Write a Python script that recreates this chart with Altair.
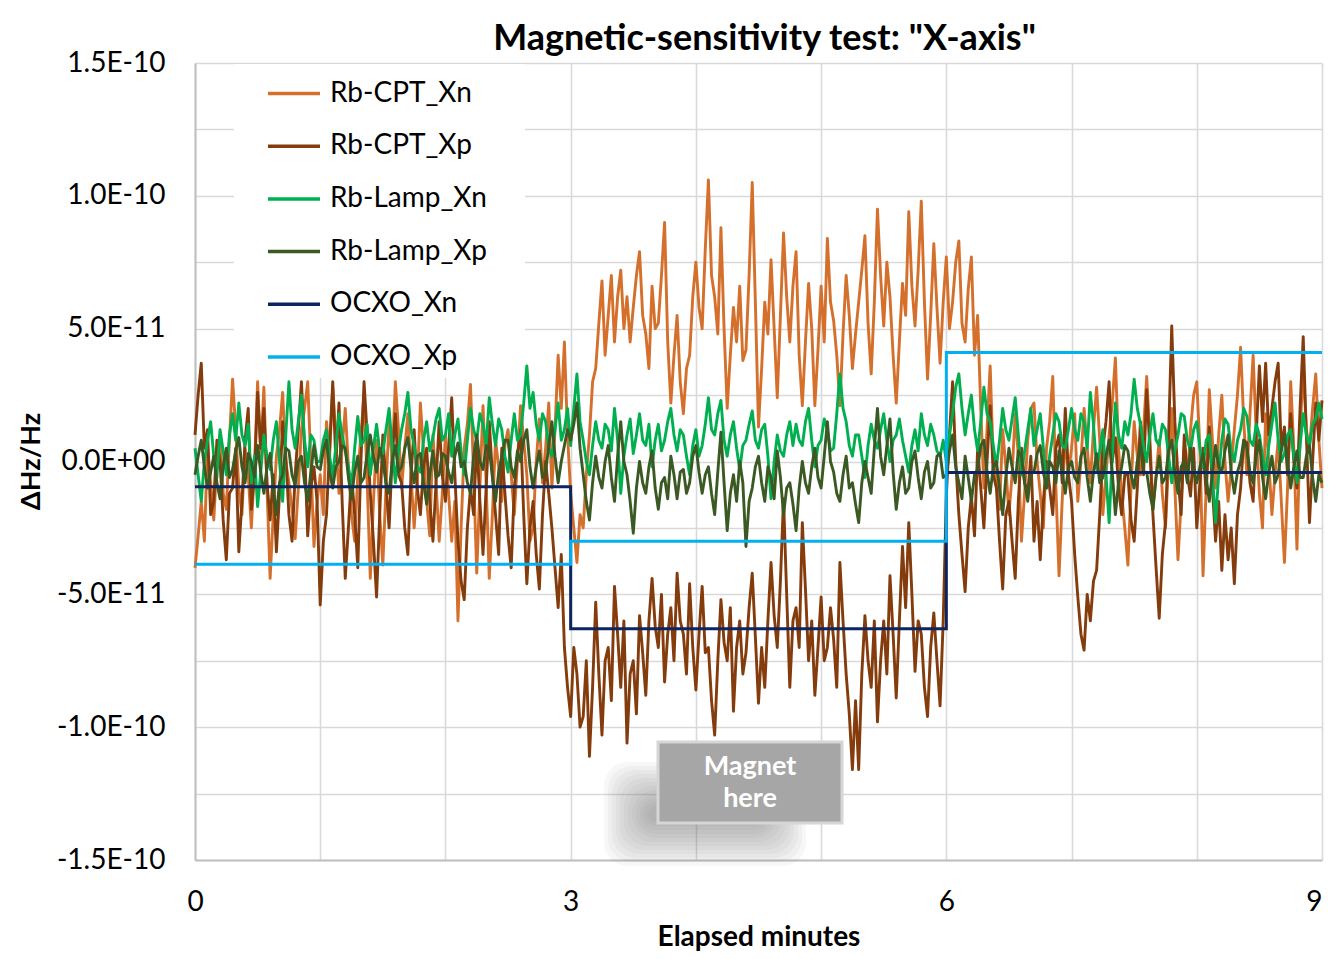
import altair as alt
import pandas as pd

# ---------------- data (values in units of 1E-12) ----------------
series_names = ["Rb-CPT_Xn", "Rb-CPT_Xp", "Rb-Lamp_Xn", "Rb-Lamp_Xp", "OCXO_Xn", "OCXO_Xp"]
series_colors = ["#D4702C", "#843C0C", "#00B050", "#3B5A23", "#0C2460", "#00B0F0"]

# sample times: every 0.025 min (1.5 s), 0 .. 9 min
time_min = [round(i * 0.025, 3) for i in range(361)]

rb_cpt_xn = [
    -40, -28, -15, -30, 5, -8, -22, 0, 10, -12, -18, 8, 31, 12, -10, -20, 5, -5, -25, -2,
    30, 2, 28, -10, -44, -20, 2, 12, 26, 0, -8, -18, -29, -10, 12, 20, 30, 0, -32, -15,
    -5, -20, 15, 2, 28, 8, -12, 5, 20, -2, -20, -30, -5, 10, 25, -8, -44, -15, 8, -20,
    -39, -10, 15, 0, 30, 12, -10, 5, 18, -5, -25, -8, 22, 4, -15, -28, 10, -8, -30, -12,
    10, -12, -30, -15, -60, -25, 5, 14, 29, -5, -42, -10, 21, -8, -44, -20, 8, -2, -15, 6,
    12, -5, -20, 0, 21, 8, -5, -30, -25, 0, 16, -8, 5, 22, -10, 12, 40, 20, 45, 10,
    -12, -25, -38, -20, -25, -5, 10, 30, 35, 52, 68, 40, 55, 70, 45, 62, 72, 50, 62, 45,
    58, 70, 79, 55, 48, 35, 66, 50, 52, 70, 90, 45, 22, 40, 55, 30, 18, 35, 40, 62,
    75, 58, 50, 80, 106, 70, 62, 48, 88, 50, 20, 40, 58, 45, 66, 38, 42, 70, 105, 60,
    13, 35, 60, 48, 76, 50, 24, 55, 86, 62, 45, 66, 79, 40, 21, 45, 67, 50, 21, 42,
    66, 45, 84, 60, 53, 40, 21, 48, 70, 55, 35, 48, 60, 72, 85, 52, 33, 60, 95, 70,
    51, 75, 62, 40, 22, 45, 67, 55, 94, 66, 51, 72, 98, 60, 31, 55, 82, 58, 37, 60,
    77, 50, 60, 75, 83, 52, 45, 65, 77, 40, 55, 20, -10, 12, 36, 0, -5, -18, 12, -2,
    -20, -5, 18, 2, -30, -12, 8, 20, 22, 0, -12, -25, 5, 15, 32, -10, -43, -15, 10, -5,
    5, 18, -15, 0, 20, 5, -8, 12, 28, 8, -20, -5, 10, 22, 39, 5, -12, -25, -39, -10,
    15, 2, -5, 12, 32, 10, -18, -5, 8, -12, -25, 0, 20, -10, -37, -15, 5, -8, 12, 25,
    30, 5, -43, -10, 27, 8, -10, 10, 25, 0, -15, -2, 12, 25, 43, 15, -5, 18, 40, 10,
    -12, -25, 18, 0, -20, -5, 8, -15, -38, -10, 30, 5, -33, 10, 36, 12, 5, 20, 33, 8,
    -10,
]
rb_cpt_xp = [
    10, 25, 37, 5, 12, -20, -15, 8, 0, -22, -37, -12, -10, 5, -34, -15, 8, 20, -18, -5,
    26, 5, 20, -8, -22, -5, -34, -12, 15, 2, -20, -30, -5, 12, 30, 5, -28, -10, -2, -15,
    -54, -30, -20, 5, 30, 0, 22, -15, -44, -25, -5, -20, -40, 0, 30, 10, -12, -30, -51, -20,
    10, -8, -25, 2, 18, -5, -8, -25, -35, -5, 12, -10, -20, -2, 5, -15, -30, -8, 15, -5,
    -15, 5, 24, -5, -30, -45, -52, -25, -10, -20, 8, -15, -35, -10, 15, -5, -20, -35, 5, -12,
    -28, -40, -10, 2, 12, -20, -46, -25, -15, -35, -48, -20, 0, -12, -25, -40, -55, -35, -70, -85,
    -96, -70, -80, -100, -96, -75, -111, -85, -53, -80, -103, -75, -70, -90, -47, -65, -85, -60, -106, -80,
    -75, -95, -58, -72, -88, -60, -44, -62, -70, -50, -83, -65, -55, -75, -42, -60, -65, -80, -46, -70,
    -86, -65, -47, -72, -70, -90, -103, -75, -52, -68, -75, -55, -94, -70, -60, -80, -72, -55, -42, -66,
    -91, -70, -85, -60, -38, -58, -70, -45, -14, -50, -85, -60, -55, -70, -23, -48, -75, -60, -88, -70,
    -51, -75, -70, -55, -67, -85, -38, -60, -80, -95, -116, -90, -116, -80, -58, -75, -85, -60, -98, -75,
    -60, -80, -43, -65, -89, -60, -32, -55, -23, -50, -79, -60, -65, -85, -96, -70, -57, -75, -92, -60,
    -13, 10, 30, 0, -20, -35, -49, -25, -13, -28, 5, -10, -25, 0, 21, -5, -10, -30, -48, -20,
    -15, -30, -44, -15, 5, -8, -12, 2, -30, -15, -37, -15, 0, -10, -20, 5, 10, -8, 20, -5,
    -15, -35, -51, -65, -71, -50, -60, -45, -41, -20, 5, 15, 30, 0, 9, -10, -20, -5, -5, -22,
    -30, -10, 15, -5, 27, 5, -20, -40, -59, -35, -23, 10, 51, 15, -6, -20, 10, -5, -13, 5,
    -25, -8, 5, -12, 13, -10, -30, -15, -41, -20, -37, -25, -46, -20, -10, 8, 7, -8, -15, 10,
    36, 15, 37, 10, 20, 30, 37, 5, 13, -5, 18, 0, -10, 20, 47, 10, -23, 0, 22, 8,
    23,
]
rb_lamp_xn = [
    5, -5, -15, 0, 8, 15, 2, -6, 12, 4, -5, 10, 18, 8, 22, 10, 6, 14, -8, 2,
    -17, -4, 10, 2, -3, 8, 15, 0, -15, 10, 30, 12, 5, 15, 25, 8, -2, 10, 8, 0,
    0, 8, 12, 2, -6, 6, 18, 10, 4, -2, -10, 5, 17, 6, 8, 14, -5, 5, 14, 4,
    3, 12, 20, 5, -8, 4, 12, 18, 26, 12, 6, -2, -4, 8, 15, 4, 9, 16, 20, 8,
    10, 18, 2, 10, 16, 4, -5, 8, 20, 12, 8, 18, 14, 6, 24, 14, 6, 16, 12, 2,
    -4, 8, 18, 8, 10, 22, 36, 20, 26, 14, 8, 18, 15, 5, 2, 12, 22, 8, 12, 20,
    6, 20, 33, 15, 8, 0, -5, 6, 15, 8, 5, 14, 12, 4, 20, 8, -12, 2, 10, 16,
    3, 10, 18, 8, 6, 14, -2, 8, 14, 4, 8, 15, 20, 10, 4, 12, 10, 2, -5, 6,
    12, 2, 6, 14, 24, 12, 10, 18, 23, 8, 2, 10, 15, 5, -3, 6, 8, 14, 19, 8,
    5, 12, 14, 2, -14, 0, 10, 4, 2, 10, 15, 6, 14, 8, 6, 15, 20, 8, -2, 6,
    8, 16, 12, 4, 5, 18, 33, 20, 15, 6, 2, 10, 10, 2, -6, 6, 14, 8, 5, 12,
    18, 8, 0, 8, 10, 16, 8, 2, -4, 6, 12, 4, 18, 10, 6, 14, 10, 4, 2, 8,
    0, 10, 18, 28, 33, 20, 10, 18, 25, 12, 4, 15, 28, 18, 15, 6, -2, 8, 20, 12,
    8, 16, 24, 10, -5, 4, 12, 20, 6, 12, 18, 5, -10, 2, 10, 18, 15, 6, 5, 12,
    20, 12, 8, 18, 15, 5, 26, 14, -3, 4, 12, -5, -23, 2, 22, 10, 5, 15, 10, 18,
    31, 20, 14, 6, 0, 10, 18, 8, 6, 14, 12, 2, -8, 4, 10, 18, 17, 8, 4, 12,
    15, 5, -2, 8, 10, -5, -23, -5, 8, 16, 14, 4, 0, 8, 12, 20, 17, 8, 6, 14,
    10, 2, -5, 6, 14, 22, 8, 0, 3, 10, 12, 2, -8, 6, 18, 10, 6, 14, 16, 22,
    16,
]
rb_lamp_xp = [
    -5, 2, 8, -2, -10, -4, 2, -8, -14, -2, 5, -6, -3, 4, 9, -2, -8, 3, 0, -6,
    6, -4, -12, -2, 3, -10, -20, -8, -5, 5, 4, -5, -9, 0, 2, -8, -15, -4, 6, -2,
    -3, 4, 8, -4, -10, -2, 0, 6, 5, -6, -14, -4, 2, -8, -6, 3, 10, 2, -4, 5,
    0, -8, -12, 0, 6, -4, -2, 5, 9, -2, -8, 2, 3, -8, -16, -5, 4, -6, -5, 3,
    2, -4, -8, 2, 7, -2, 0, -8, -12, 2, 10, 0, -3, 6, 5, -6, -15, -4, 2, 8,
    8, -2, -6, 4, 0, 8, 12, -2, -10, -2, 4, -6, -4, 6, 15, 2, -8, 0, 6, 12,
    8, 14, 22, 5, -5, -15, -22, -8, 2, -6, -10, 0, 6, -6, -15, 2, 15, 0, -5, -15,
    -27, -10, 0, -8, -12, -2, 4, -10, -18, -8, -6, -14, 2, -5, -14, -4, -3, -12, -8, 2,
    6, -4, -12, -5, -2, -12, -20, -4, 11, -8, -26, -12, -5, -15, 0, -8, -32, -15, -10, -2,
    2, -8, -15, -2, -6, -14, 4, -6, -20, -10, -8, -16, -26, -10, 0, -8, -12, -2, 5, -6,
    -10, 2, 15, 0, -4, -12, -15, -5, 2, -10, -8, -16, -23, -8, 0, -6, -12, 5, 20, 2,
    -5, 6, 16, -4, -18, -8, -2, -12, -10, 0, 4, -6, -14, -4, 0, -10, -8, 2, 3, -6,
    -5, 4, 10, -2, -8, -14, 2, -6, -15, -5, -3, 6, 8, -4, -12, -2, 0, -10, -20, -6,
    5, -2, -8, 4, 2, -8, -15, -4, -4, 3, 6, -4, -10, 0, -2, -8, 4, -4, -12, -2,
    0, -6, -8, 2, 5, -6, -15, -4, 3, -8, -6, 2, 8, -4, -20, -8, -2, 6, 4, -5,
    -10, 0, 6, -4, -4, -12, -18, -6, 2, -8, -6, 4, 8, -4, -12, -2, 0, -8, 5, -3,
    -8, -2, 3, -6, -15, -4, 6, -2, -4, 4, 10, -4, -12, -4, 0, 8, 5, -4, -8, 2,
    8, -6, -14, -4, 2, -8, -5, 4, 10, 0, -10, -2, 4, -6, -6, 2, 6, -6, -15, -5,
    -8,
]

# OCXO: constant level per 3-minute segment
ocxo_time = [0, 3, 3, 6, 6, 9]
ocxo_xn = [-9.5, -9.5, -63, -63, -4.1, -4.1]
ocxo_xp = [-38.7, -38.7, -30, -30, 41, 41]

y_grid_values = [-1.5e-10, -1.25e-10, -1.0e-10, -7.5e-11, -5.0e-11, -2.5e-11, 0,
                 2.5e-11, 5.0e-11, 7.5e-11, 1.0e-10, 1.25e-10, 1.5e-10]
x_grid_values = [0, 1, 2, 3, 4, 5, 6, 7, 8, 9]

SCALE = 1e-12

# ---------------- tables ----------------
rows = []
for name, vals in zip(series_names[:4], [rb_cpt_xn, rb_cpt_xp, rb_lamp_xn, rb_lamp_xp]):
    for i, (t, v) in enumerate(zip(time_min, vals)):
        rows.append({"series": name, "t": t, "v": v * SCALE, "idx": i})
df_noise = pd.DataFrame(rows)

srows = []
for name, vals in zip(series_names[4:], [ocxo_xn, ocxo_xp]):
    for i, (t, v) in enumerate(zip(ocxo_time, vals)):
        srows.append({"series": name, "t": t, "v": v * SCALE, "idx": i})
df_steps = pd.DataFrame(srows)

FONT = "Lato"
PX0, PY0 = 195, 63  # plot origin on page

color_scale = alt.Scale(domain=series_names, range=series_colors)
legend = alt.Legend(
    title=None, orient="none", legendX=71, legendY=2.5, direction="vertical",
    padding=0, symbolType="stroke", symbolSize=2704,
    symbolStrokeWidth=3.5, labelFont=FONT, labelFontSize=28, labelColor="#000000",
    labelOffset=8, rowPadding=10.7, labelLimit=400,
)

x_enc = alt.X(
    "t:Q",
    scale=alt.Scale(domain=[0, 9], nice=False, zero=False),
    axis=alt.Axis(
        values=x_grid_values, labelExpr="datum.value % 3 == 0 ? datum.label : ''",
        labelAlign={"expr": "datum.value == 9 ? 'right' : 'center'"},
        title="Elapsed minutes", titleFont=FONT, titleFontSize=28, titleFontWeight="bold",
        titleColor="#000000", titleY=77, titleBaseline="middle",
        labelFont=FONT, labelFontSize=28, labelColor="#000000", labelPadding=28,
        ticks=False, tickSize=0, labelFlush=False,
    ),
)
y_enc = alt.Y(
    "v:Q",
    scale=alt.Scale(domain=[-1.5e-10, 1.5e-10], nice=False, zero=False),
    axis=alt.Axis(
        values=y_grid_values,
        labelExpr=("abs(datum.value/5e-11 - round(datum.value/5e-11)) < 0.01 ? "
                   "(abs(datum.value) < 1e-15 ? '0.0E+00' : "
                   "upper(replace(format(datum.value, '.1e'), '\u2212', '-'))) : ''"),
        title="\u0394Hz/Hz", titleFont=FONT, titleFontSize=27, titleFontWeight="bold",
        titleColor="#000000", titleX=-164, titleY=398, titleAngle=-90,
        titleAlign="center", titleBaseline="middle",
        labelFont=FONT, labelFontSize=28, labelColor="#000000", labelPadding=30,
        ticks=False, tickSize=0, labelFlush=False,
    ),
)

one = pd.DataFrame({"k": [0]})

# white panel behind the legend (hides gridlines like the reference)
legend_bg = alt.Chart(one).mark_rect(color="white").encode(
    x=alt.value(234 - PX0), x2=alt.value(525 - PX0), y=alt.value(64 - PY0), y2=alt.value(378 - PY0)
)

layers = []
for name in series_names[:4]:
    layers.append(
        alt.Chart(df_noise)
        .transform_filter(alt.datum.series == name)
        .mark_line(strokeWidth=2.9, strokeJoin="round")
        .encode(x=x_enc, y=y_enc,
                color=alt.Color("series:N", scale=color_scale, legend=legend),
                order=alt.Order("idx:Q"))
    )
for name in series_names[4:]:
    layers.append(
        alt.Chart(df_steps)
        .transform_filter(alt.datum.series == name)
        .mark_line(strokeWidth=3)
        .encode(x=x_enc, y=y_enc,
                color=alt.Color("series:N", scale=color_scale, legend=legend),
                order=alt.Order("idx:Q"))
    )

# ---------------- "Magnet here" annotation ----------------
shadow_layers = []
for i in range(12):
    inset = i * 4
    shadow_layers.append(
        alt.Chart(one).mark_rect(color="#6f6f6f", opacity=0.055, cornerRadius=24)
        .encode(x=alt.value(604 + inset - PX0), x2=alt.value(806 - inset - PX0),
                y=alt.value(762 + inset - PY0), y2=alt.value(866 - inset - PY0))
    )
box = alt.Chart(one).mark_rect(color="#A6A6A6", stroke="#D6D6D6", strokeWidth=3).encode(
    x=alt.value(658 - PX0), x2=alt.value(842 - PX0), y=alt.value(742 - PY0), y2=alt.value(823 - PY0)
)
box_text = alt.Chart(one).mark_text(
    text="Magnet\nhere", lineBreak="\n", lineHeight=32, font=FONT, fontSize=27,
    fontWeight="bold", color="white", align="center", baseline="middle",
).encode(x=alt.value(750 - PX0), y=alt.value(767 - PY0))

chart = alt.layer(legend_bg, *layers, *shadow_layers, box, box_text).properties(
    width=1127, height=797,
    title=alt.TitleParams(
        text='Magnetic-sensitivity test: "X-axis"', font=FONT, fontSize=36,
        fontWeight="bold", color="#000000", anchor="middle", offset=10, dx=6, dy=19,
    ),
    autosize=alt.AutoSizeParams(type="none"),
    padding={"left": 187, "top": 55, "right": 2, "bottom": 91},
).configure_view(stroke=None).configure_axis(
    grid=True, gridColor="#D9D9D9", gridWidth=1.6,
    domainColor="#BFBFBF", domainWidth=2,
)

chart.save("out.html", embed_options={"renderer": "svg", "actions": False})
